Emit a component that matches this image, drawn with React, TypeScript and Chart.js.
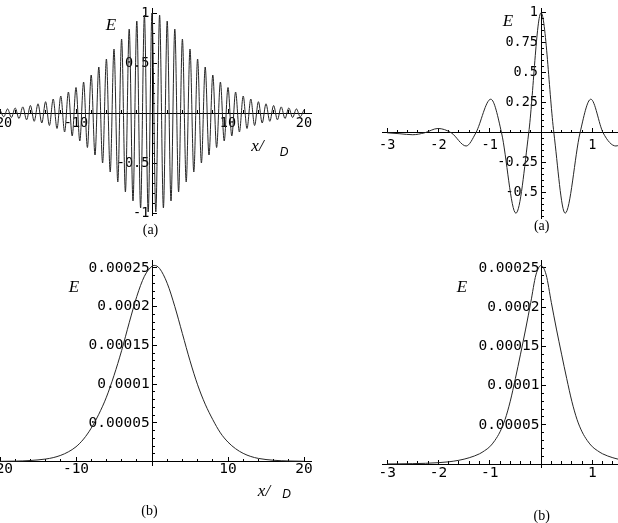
import React, { useEffect, useRef } from "react";
import { Chart, registerables } from "chart.js";

Chart.register(...registerables);

const W = 618;
const H = 523;

// ---------- (a) left : oscillating field, extrema ----------
const waveX = [
  -20, -19.5, -19, -18.5, -18, -17.5, -17, -16.5, -16, -15.5, -15, -14.5, -14, -13.5, -13, -12.5,
  -12, -11.5, -11, -10.5, -10, -9.5, -9, -8.5, -8, -7.5, -7, -6.5, -6, -5.5, -5, -4.5, -4, -3.5,
  -3, -2.5, -2, -1.5, -1, -0.5, 0, 0.5, 1, 1.5, 2, 2.5, 3, 3.5, 4, 4.5, 5, 5.5, 6, 6.5, 7, 7.5,
  8, 8.5, 9, 9.5, 10, 10.5, 11, 11.5, 12, 12.5, 13, 13.5, 14, 14.5, 15, 15.5, 16, 16.5, 17, 17.5,
  18, 18.5, 19, 19.5, 20,
];
const waveE = [
  0.033, -0.037, 0.041, -0.045, 0.05, -0.055, 0.061, -0.068, 0.075, -0.083, 0.092, -0.1, 0.113,
  -0.125, 0.14, -0.155, 0.17, -0.19, 0.21, -0.23, 0.255, -0.28, 0.31, -0.345, 0.38, -0.42, 0.46,
  -0.5, 0.54, -0.59, 0.64, -0.69, 0.74, -0.79, 0.84, -0.88, 0.92, -0.95, 0.98, -0.99, 1.0, -0.99,
  0.98, -0.95, 0.92, -0.88, 0.84, -0.79, 0.74, -0.69, 0.64, -0.59, 0.54, -0.5, 0.46, -0.42, 0.38,
  -0.345, 0.31, -0.28, 0.255, -0.23, 0.21, -0.19, 0.17, -0.155, 0.14, -0.125, 0.113, -0.1, 0.092,
  -0.083, 0.075, -0.068, 0.061, -0.055, 0.05, -0.045, 0.041, -0.037, 0.033,
];

// ---------- (a) right : compressed pulse ----------
const sincX = [-3, -2.75, -2.5, -2.27, -2.01, -1.75, -1.46, -1.27, -0.98, -0.77, -0.49, -0.24, 0, 0.25, 0.47, 0.76, 0.97, 1.21, 1.46, 1.75];
const sincE = [0, -0.008, -0.016, 0, 0.036, 0, -0.11, 0, 0.28, 0, -0.67, 0, 1.0, 0, -0.67, 0, 0.28, 0, -0.11, 0];

// ---------- (b) left : spectrum ----------
const specLX = [-20, -18, -16, -14, -13, -12, -11, -10, -9, -8, -7, -6, -5, -4, -3, -2, -1, 0, 0.3, 1, 2, 3, 4, 5, 6, 7, 8, 9, 10, 11, 12, 13, 14, 16, 18, 20];
const specLE = [
  0.0000002, 0.0000005, 0.0000013, 0.0000032, 0.000005, 0.000008, 0.0000125, 0.000019, 0.000029,
  0.000043, 0.000061, 0.000083, 0.000111, 0.000143, 0.000179, 0.000213, 0.000239, 0.000252,
  0.000253, 0.000249, 0.00023, 0.0002, 0.000165, 0.00013, 0.000099, 0.000074, 0.000054, 0.000037,
  0.000025, 0.0000165, 0.0000105, 0.0000065, 0.000004, 0.0000016, 0.0000007, 0.0000003,
];

// ---------- (b) right : spectrum ----------
const specRX = [
  -3, -2.75, -2.5, -2.25, -2, -1.8, -1.6, -1.4, -1.2, -1.1, -1, -0.9, -0.8, -0.7, -0.6, -0.5, -0.4,
  -0.3, -0.2, -0.1, 0, 0.1, 0.2, 0.3, 0.4, 0.5, 0.6, 0.7, 0.8, 0.9, 1, 1.1, 1.2, 1.4, 1.6, 1.8,
];
const specRE = [
  0.00000012, 0.00000025, 0.0000005, 0.0000009, 0.0000017, 0.0000028, 0.0000048, 0.000008,
  0.000013, 0.000017, 0.000022, 0.00003, 0.000041, 0.000057, 0.00008, 0.000109, 0.00014, 0.000172,
  0.000206, 0.000241, 0.000253, 0.000241, 0.000206, 0.000172, 0.00014, 0.000109, 0.00008,
  0.000057, 0.000041, 0.00003, 0.000022, 0.000017, 0.000013, 0.000008, 0.0000048, 0.0000028,
];

// ---------- ticks ----------
const longXMajor = [-20, -10, 10, 20];
const longXLabels = ["-20", "-10", "10", "20"];
const longXMinor = [-18, -16, -14, -12, -8, -6, -4, -2, 2, 4, 6, 8, 12, 14, 16, 18];

const shortXMajor = [-3, -2, -1, 1];
const shortXLabels = ["-3", "-2", "-1", "1"];
const shortXMinor = [-2.8, -2.6, -2.4, -2.2, -1.8, -1.6, -1.4, -1.2, -0.8, -0.6, -0.4, -0.2, 0.2, 0.4, 0.6, 0.8, 1.2, 1.4];

const waveYMajor = [-1, -0.5, 0.5, 1];
const waveYLabels = ["-1", "-0.5", "0.5", "1"];
const waveYMinor = [-0.9, -0.8, -0.7, -0.6, -0.4, -0.3, -0.2, -0.1, 0.1, 0.2, 0.3, 0.4, 0.6, 0.7, 0.8, 0.9];

const sincYMajor = [-0.5, -0.25, 0.25, 0.5, 0.75, 1];
const sincYLabels = ["-0.5", "-0.25", "0.25", "0.5", "0.75", "1"];
const sincYMinor = [
  -0.7, -0.65, -0.6, -0.55, -0.45, -0.4, -0.35, -0.3, -0.2, -0.15, -0.1, -0.05, 0.05, 0.1, 0.15,
  0.2, 0.3, 0.35, 0.4, 0.45, 0.55, 0.6, 0.65, 0.7, 0.8, 0.85, 0.9, 0.95,
];

const specYMajor = [0.00005, 0.0001, 0.00015, 0.0002, 0.00025];
const specYLabels = ["0.00005", "0.0001", "0.00015", "0.0002", "0.00025"];
const specYMinor = [
  0.00001, 0.00002, 0.00003, 0.00004, 0.00006, 0.00007, 0.00008, 0.00009, 0.00011, 0.00012,
  0.00013, 0.00014, 0.00016, 0.00017, 0.00018, 0.00019, 0.00021, 0.00022, 0.00023, 0.00024,
];

type Panel = {
  xs: number[];
  ys: number[];
  xMin: number;
  xMax: number;
  yMin: number;
  yMax: number;
  pad: { left: number; right: number; top: number; bottom: number };
  xMajor: number[];
  xLabels: string[];
  xMinor: number[];
  yMajor: number[];
  yLabels: string[];
  yMinor: number[];
  xLabelPad: number;
  yLabelShift: number;
  fontSize: number;
};

const panels: Panel[] = [
  {
    xs: waveX, ys: waveE, xMin: -20, xMax: 21, yMin: -1.02, yMax: 1.05,
    pad: { left: 0, right: W - 311.6, top: 8, bottom: H - 215 },
    xMajor: longXMajor, xLabels: longXLabels, xMinor: longXMinor,
    yMajor: waveYMajor, yLabels: waveYLabels, yMinor: waveYMinor,
    xLabelPad: 7, yLabelShift: -0.36, fontSize: 13.5,
  },
  {
    xs: sincX, ys: sincE, xMin: -3.1, xMax: 1.5, yMin: -0.71, yMax: 1.04,
    pad: { left: 382, right: 0, top: 8, bottom: H - 218 },
    xMajor: shortXMajor, xLabels: shortXLabels, xMinor: shortXMinor,
    yMajor: sincYMajor, yLabels: sincYLabels, yMinor: sincYMinor,
    xLabelPad: 9.3, yLabelShift: -0.06, fontSize: 13.5,
  },
  {
    xs: specLX, ys: specLE, xMin: -20, xMax: 21, yMin: -0.0000045, yMax: 0.00026,
    pad: { left: 0, right: W - 311.6, top: 260, bottom: H - 465 },
    xMajor: longXMajor, xLabels: longXLabels, xMinor: longXMinor,
    yMajor: specYMajor, yLabels: specYLabels, yMinor: specYMinor,
    xLabelPad: 4.3, yLabelShift: -0.3, fontSize: 14.5,
  },
  {
    xs: specRX, ys: specRE, xMin: -3.1, xMax: 1.5, yMin: -0.0000038, yMax: 0.00026,
    pad: { left: 382, right: 0, top: 260, bottom: H - 467 },
    xMajor: shortXMajor, xLabels: shortXLabels, xMinor: shortXMinor,
    yMajor: specYMajor, yLabels: specYLabels, yMinor: specYMinor,
    xLabelPad: 5.4, yLabelShift: -0.03, fontSize: 14.5,
  },
];

function buildConfig(p: Panel): any {
  const setTicks = (vals: number[]) => (s: any) => {
    s.ticks = vals.map((v) => ({ value: v }));
  };
  const noSize = (horizontal: boolean) => (s: any) => {
    if (horizontal) s.height = 0;
    else s.width = 0;
    s.paddingLeft = 0;
    s.paddingRight = 0;
    s.paddingTop = 0;
    s.paddingBottom = 0;
  };
  const font = { family: "'DejaVu Sans Mono', monospace", size: p.fontSize };
  const tickGrid = (len: number) => ({
    display: true,
    drawOnChartArea: false,
    drawTicks: true,
    tickLength: len,
    tickColor: "#000",
    tickWidth: 1,
  });
  return {
    type: "line",
    data: {
      datasets: [
        {
          data: p.xs.map((x, i) => ({ x, y: p.ys[i] })),
          borderColor: "#262626",
          borderWidth: 1,
          pointRadius: 0,
          pointHoverRadius: 0,
          fill: false,
          cubicInterpolationMode: "monotone",
          xAxisID: "x",
          yAxisID: "y",
        },
      ],
    },
    options: {
      animation: false,
      responsive: false,
      events: [],
      layout: { padding: p.pad },
      plugins: { legend: { display: false }, tooltip: { enabled: false } },
      scales: {
        x: {
          type: "linear",
          min: p.xMin,
          max: p.xMax,
          position: { y: 0 },
          afterBuildTicks: setTicks(p.xMajor),
          afterFit: noSize(true),
          border: { display: true, color: "#000", width: 1 },
          grid: tickGrid(-5),
          ticks: {
            display: true,
            autoSkip: false,
            maxRotation: 0,
            minRotation: 0,
            padding: p.xLabelPad,
            color: "#000",
            font,
            callback: (_v: any, i: number) => p.xLabels[i],
          },
        },
        xm: {
          type: "linear",
          axis: "x",
          min: p.xMin,
          max: p.xMax,
          position: { y: 0 },
          afterBuildTicks: setTicks(p.xMinor),
          afterFit: noSize(true),
          border: { display: false },
          grid: tickGrid(-3),
          ticks: { display: false, autoSkip: false },
        },
        y: {
          type: "linear",
          min: p.yMin,
          max: p.yMax,
          position: { x: 0 },
          afterBuildTicks: setTicks(p.yMajor),
          afterFit: noSize(false),
          border: { display: true, color: "#000", width: 1 },
          grid: tickGrid(-5),
          ticks: { display: false, autoSkip: false },
        },
        ym: {
          type: "linear",
          axis: "y",
          min: p.yMin,
          max: p.yMax,
          position: { x: 0 },
          afterBuildTicks: setTicks(p.yMinor),
          afterFit: noSize(false),
          border: { display: false },
          grid: tickGrid(-3),
          ticks: { display: false, autoSkip: false },
        },
        yl: {
          type: "linear",
          axis: "y",
          min: p.yMin,
          max: p.yMax,
          position: { x: p.yLabelShift },
          afterBuildTicks: setTicks(p.yMajor),
          afterFit: noSize(false),
          border: { display: false },
          grid: { display: false, drawTicks: false },
          ticks: {
            display: true,
            autoSkip: false,
            padding: 0,
            color: "#000",
            font,
            callback: (_v: any, i: number) => p.yLabels[i],
          },
        },
      },
    },
  };
}

const Txt = ({ x, y, style, children }: { x: number; y: number; style?: any; children: any }) => (
  <span
    style={{
      position: "absolute",
      left: x,
      top: y,
      transform: "translate(-50%, -50%)",
      lineHeight: 1,
      whiteSpace: "nowrap",
      color: "#000",
      ...style,
    }}
  >
    {children}
  </span>
);

const serifItalic = { fontFamily: "'Liberation Serif', serif", fontStyle: "italic", fontSize: 17 };
const sansItalic = { fontFamily: "'Liberation Sans', sans-serif", fontStyle: "italic", fontSize: 12 };
const serifCap = { fontFamily: "'Liberation Serif', serif", fontSize: 14 };

export default function App() {
  const refs = [useRef<HTMLCanvasElement>(null), useRef<HTMLCanvasElement>(null), useRef<HTMLCanvasElement>(null), useRef<HTMLCanvasElement>(null)];

  useEffect(() => {
    const charts = panels.map((p, i) => new Chart(refs[i].current as HTMLCanvasElement, buildConfig(p)));
    return () => charts.forEach((c) => c.destroy());
  }, []);

  return (
    <div style={{ position: "absolute", left: 0, top: 0, width: W, height: H, background: "#fff", overflow: "hidden" }}>
      {refs.map((r, i) => (
        <canvas key={i} ref={r} width={W} height={H} style={{ position: "absolute", left: 0, top: 0, width: W, height: H }} />
      ))}
      <Txt x={111} y={24} style={serifItalic}>E</Txt>
      <Txt x={508} y={20} style={serifItalic}>E</Txt>
      <Txt x={74} y={286} style={serifItalic}>E</Txt>
      <Txt x={462} y={286} style={serifItalic}>E</Txt>
      <Txt x={257.5} y={144.5} style={serifItalic}>x/</Txt>
      <Txt x={284} y={151.7} style={sansItalic}>D</Txt>
      <Txt x={264} y={489.5} style={serifItalic}>x/</Txt>
      <Txt x={286.7} y={494} style={sansItalic}>D</Txt>
      <Txt x={150.5} y={229.5} style={serifCap}>(a)</Txt>
      <Txt x={541.7} y={226} style={serifCap}>(a)</Txt>
      <Txt x={149.5} y={511} style={serifCap}>(b)</Txt>
      <Txt x={541.7} y={516} style={serifCap}>(b)</Txt>
    </div>
  );
}
